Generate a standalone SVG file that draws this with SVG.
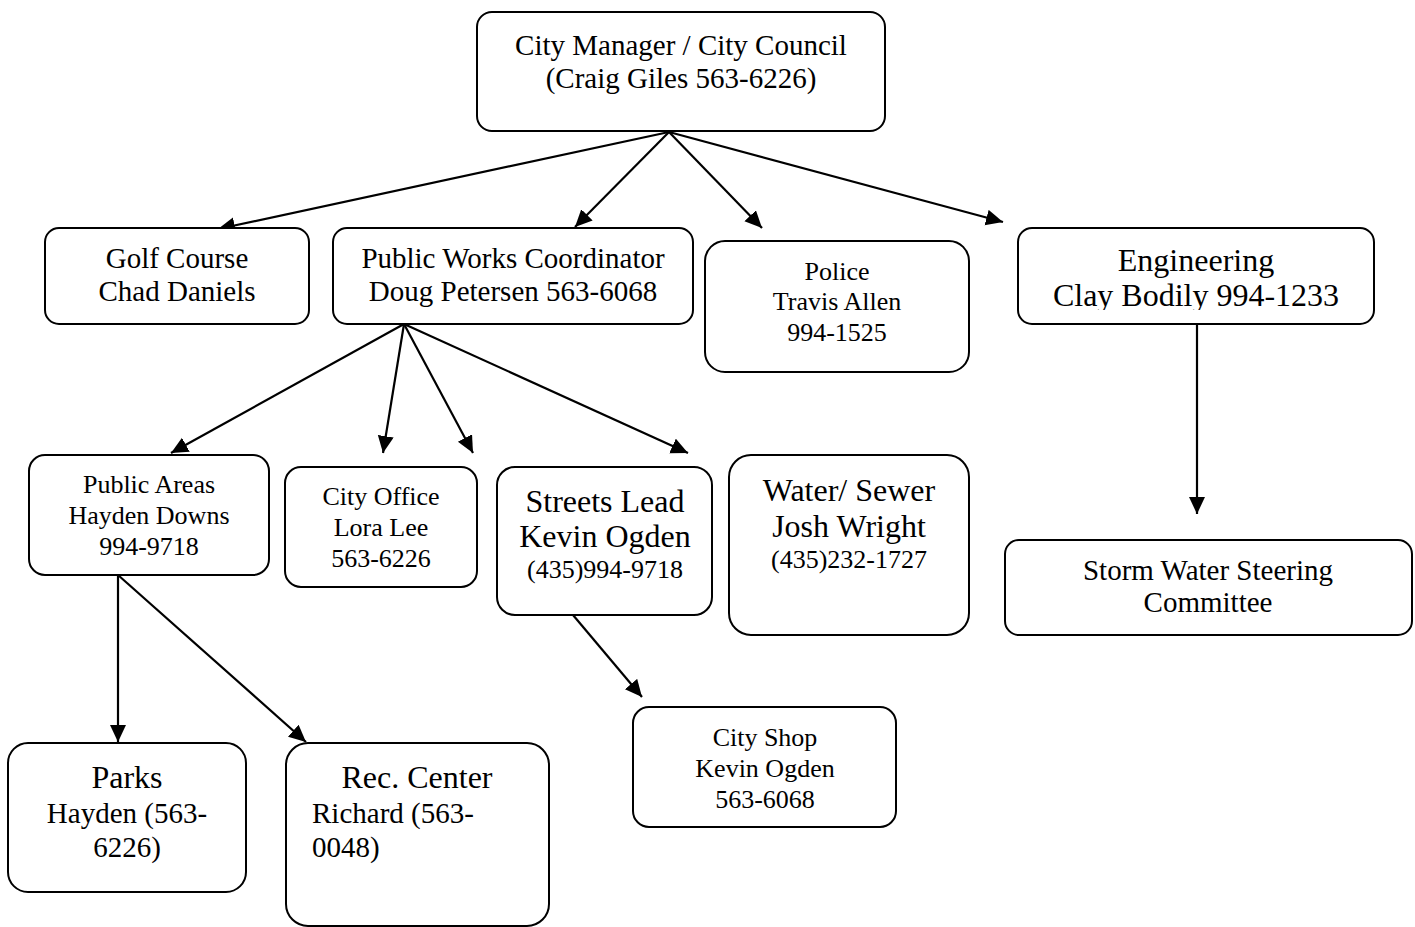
<svg xmlns="http://www.w3.org/2000/svg" width="1415" height="927" viewBox="0 0 1415 927">
<style>
.box{fill:#fff;stroke:#000;stroke-width:2}
text{font-family:"Liberation Serif","Times New Roman",serif;fill:#000;text-anchor:middle}
.f26{font-size:26px}
.f29{font-size:29px}
.f32{font-size:32px}
.l{text-anchor:start}
.con{stroke:#000;stroke-width:2.2;fill:none;marker-end:url(#ah)}
</style>
<defs>
<marker id="ah" markerUnits="userSpaceOnUse" markerWidth="20" markerHeight="18" refX="17" refY="8" orient="auto">
<path d="M0,0 L17,8 L0,16 z" fill="#000"/>
</marker>
<clipPath id="engClip"><rect x="1018" y="228" width="356" height="82"/></clipPath>
</defs>
<rect width="1415" height="927" fill="#fff"/>
<g id="connectors">
<line class="con" x1="669" y1="132" x2="218" y2="229"/>
<line class="con" x1="669" y1="132" x2="575" y2="227"/>
<line class="con" x1="669" y1="132" x2="762" y2="228"/>
<line class="con" x1="669" y1="132" x2="1003" y2="222"/>
<line class="con" x1="404" y1="324" x2="171" y2="453"/>
<line class="con" x1="404" y1="324" x2="383" y2="453"/>
<line class="con" x1="404" y1="324" x2="473" y2="453"/>
<line class="con" x1="404" y1="324" x2="688" y2="453"/>
<line class="con" x1="1197" y1="324" x2="1197" y2="514"/>
<line class="con" x1="118" y1="575" x2="118" y2="742"/>
<line class="con" x1="118" y1="575" x2="306" y2="742"/>
<line class="con" x1="573" y1="615" x2="642" y2="697"/>
</g>
<g id="city-manager">
<rect class="box" x="477" y="12" width="408" height="119" rx="15"/>
<text class="f29" x="681" y="55">City Manager / City Council</text>
<text class="f29" x="681" y="88">(Craig Giles 563-6226)</text>
</g>
<g id="golf-course">
<rect class="box" x="45" y="228" width="264" height="96" rx="14"/>
<text class="f29" x="177" y="268">Golf Course</text>
<text class="f29" x="177" y="301">Chad Daniels</text>
</g>
<g id="public-works">
<rect class="box" x="333" y="228" width="360" height="96" rx="14"/>
<text class="f29" x="513" y="268">Public Works Coordinator</text>
<text class="f29" x="513" y="301">Doug Petersen 563-6068</text>
</g>
<g id="police">
<rect class="box" x="705" y="241" width="264" height="131" rx="20"/>
<text class="f26" x="837" y="280">Police</text>
<text class="f26" x="837" y="310">Travis Allen</text>
<text class="f26" x="837" y="341">994-1525</text>
</g>
<g id="engineering">
<rect class="box" x="1018" y="228" width="356" height="96" rx="14"/>
<g clip-path="url(#engClip)">
<text class="f32" x="1196" y="271">Engineering</text>
<text class="f32" x="1196" y="306">Clay Bodily 994-1233</text>
</g>
</g>
<g id="public-areas">
<rect class="box" x="29" y="455" width="240" height="120" rx="16"/>
<text class="f26" x="149" y="493">Public Areas</text>
<text class="f26" x="149" y="524">Hayden Downs</text>
<text class="f26" x="149" y="555">994-9718</text>
</g>
<g id="city-office">
<rect class="box" x="285" y="467" width="192" height="120" rx="16"/>
<text class="f26" x="381" y="505">City Office</text>
<text class="f26" x="381" y="536">Lora Lee</text>
<text class="f26" x="381" y="567">563-6226</text>
</g>
<g id="streets-lead">
<rect class="box" x="497" y="467" width="215" height="148" rx="18"/>
<text class="f32" x="605" y="512">Streets Lead</text>
<text class="f32" x="605" y="547">Kevin Ogden</text>
<text class="f26" x="605" y="578">(435)994-9718</text>
</g>
<g id="water-sewer">
<rect class="box" x="729" y="455" width="240" height="180" rx="22"/>
<text class="f32" x="849" y="501">Water/ Sewer</text>
<text class="f32" x="849" y="537">Josh Wright</text>
<text class="f26" x="849" y="568">(435)232-1727</text>
</g>
<g id="storm-water">
<rect class="box" x="1005" y="540" width="407" height="95" rx="14"/>
<text class="f29" x="1208" y="580">Storm Water Steering</text>
<text class="f29" x="1208" y="612">Committee</text>
</g>
<g id="city-shop">
<rect class="box" x="633" y="707" width="263" height="120" rx="16"/>
<text class="f26" x="765" y="746">City Shop</text>
<text class="f26" x="765" y="777">Kevin Ogden</text>
<text class="f26" x="765" y="808">563-6068</text>
</g>
<g id="parks">
<rect class="box" x="8" y="743" width="238" height="149" rx="20"/>
<text class="f32" x="127" y="788">Parks</text>
<text class="f29" x="127" y="823">Hayden (563-</text>
<text class="f29" x="127" y="857">6226)</text>
</g>
<g id="rec-center">
<rect class="box" x="286" y="743" width="263" height="183" rx="22"/>
<text class="f32" x="417" y="788">Rec. Center</text>
<text class="f29 l" x="312" y="823">Richard (563-</text>
<text class="f29 l" x="312" y="857">0048)</text>
</g>
</svg>
